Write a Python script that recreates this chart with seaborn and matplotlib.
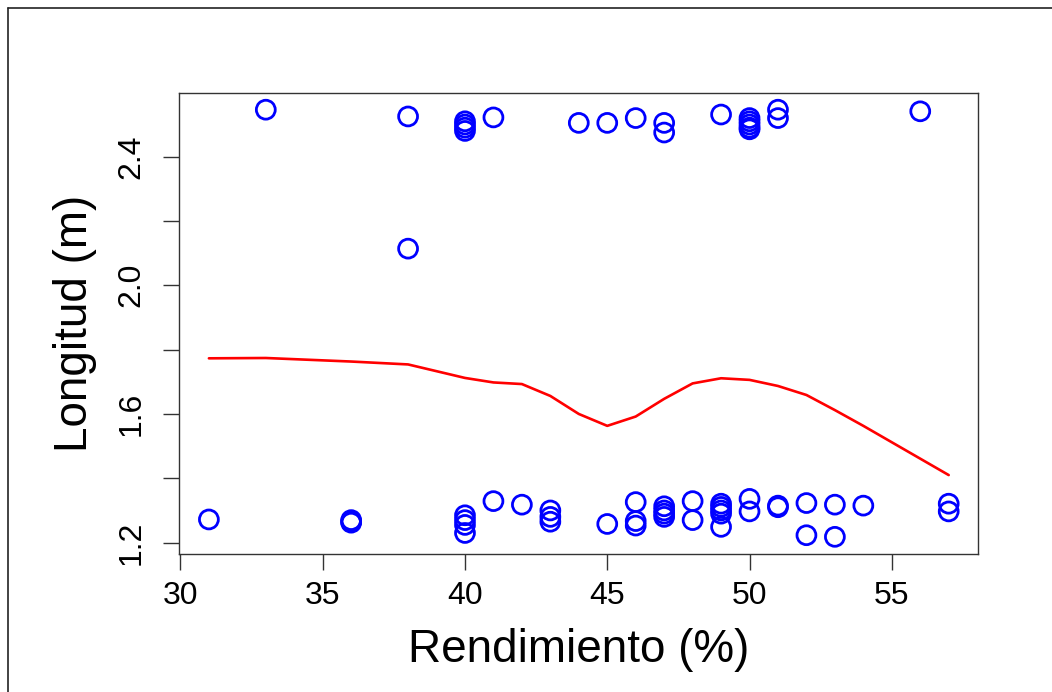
import numpy as np
import pandas as pd
import matplotlib
matplotlib.use("Agg")
import matplotlib.pyplot as plt
from matplotlib.lines import Line2D
import seaborn as sns

# ---- data ----
rend_top = [33, 38, 40, 40, 40, 40, 41, 44, 45, 46, 47, 47, 49,
            50, 50, 50, 50, 50, 51, 51, 56]
long_top = [2.546, 2.525, 2.51, 2.50, 2.49, 2.48, 2.522, 2.505, 2.505, 2.52, 2.505, 2.475, 2.531,
            2.52, 2.51, 2.50, 2.49, 2.485, 2.546, 2.52, 2.541]
rend_mid = [38]
long_mid = [2.114]
rend_bot = [31, 36, 36, 36, 40, 40, 40, 40, 41, 42, 43, 43, 43, 45,
            46, 46, 46, 47, 47, 47, 47, 48, 48, 49, 49, 49, 49, 49,
            50, 50, 51, 51, 52, 52, 53, 53, 54, 57, 57]
long_bot = [1.272, 1.27, 1.265, 1.262, 1.285, 1.27, 1.255, 1.23, 1.329, 1.318, 1.30, 1.28, 1.265, 1.258,
            1.326, 1.267, 1.253, 1.313, 1.30, 1.29, 1.28, 1.329, 1.27, 1.321, 1.311, 1.30, 1.29, 1.249,
            1.336, 1.297, 1.315, 1.31, 1.323, 1.223, 1.318, 1.218, 1.315, 1.321, 1.297]

# lowess smooth line
smooth_x = [31, 33, 36, 38, 40, 41, 42, 43, 44, 45, 46, 47, 48, 49, 50, 51, 52, 53, 54, 56, 57]
smooth_y = [1.773, 1.774, 1.763, 1.754, 1.712, 1.698, 1.693, 1.656, 1.600, 1.563, 1.592, 1.647,
            1.695, 1.711, 1.706, 1.687, 1.659, 1.612, 1.563, 1.461, 1.410]

x_ticks = [30, 35, 40, 45, 50, 55]
y_ticks = [1.2, 1.4, 1.6, 1.8, 2.0, 2.2, 2.4]
y_tick_labels = ["1.2", "", "1.6", "", "2.0", "", "2.4"]

pts = pd.DataFrame({
    "Rendimiento": rend_top + rend_mid + rend_bot,
    "Longitud": long_top + long_mid + long_bot,
})
smooth = pd.DataFrame({"x": smooth_x, "y": smooth_y})

sns.set_style("ticks")
plt.rcParams["font.family"] = ["Liberation Sans", "DejaVu Sans"]

fig = plt.figure(figsize=(10.52, 6.92), dpi=100)
ax = fig.add_axes([179.3 / 1052, 1 - 554 / 692, (978.3 - 179.3) / 1052, (554 - 93.3) / 692])

sns.scatterplot(data=pts, x="Rendimiento", y="Longitud", ax=ax, marker="o", s=185,
                facecolor="none", edgecolor="#0000ff", linewidth=2.0, zorder=3)
sns.lineplot(data=smooth, x="x", y="y", ax=ax, color="#ff0000", linewidth=1.9,
             estimator=None, sort=False, zorder=2)

ax.set_xlim(29.96, 58.04)
ax.set_ylim(1.1646, 2.597)
ax.set_xticks(x_ticks)
ax.set_xticklabels([str(t) for t in x_ticks])
ax.set_yticks(y_ticks)
ax.set_yticklabels(y_tick_labels, rotation=90, va="center")

for s in ax.spines.values():
    s.set_visible(True)
    s.set_color("#333333")
    s.set_linewidth(1.0)

ax.tick_params(axis="both", direction="out", length=11.5, width=1.0, color="#333333",
               labelsize=23, labelcolor="black")
ax.tick_params(axis="x", pad=8)
ax.tick_params(axis="y", pad=12)

ax.set_xlabel("Rendimiento (%)", fontsize=33, labelpad=12, color="black")
ax.set_ylabel("Longitud (m)", fontsize=33, labelpad=14, color="black")

# outer frame (top and left edges visible)
fig.add_artist(Line2D([7.7 / 1052, 1.0], [1 - 8.3 / 692, 1 - 8.3 / 692],
                      transform=fig.transFigure, color="#222222", linewidth=1.2))
fig.add_artist(Line2D([7.7 / 1052, 7.7 / 1052], [0.0, 1 - 8.3 / 692],
                      transform=fig.transFigure, color="#222222", linewidth=1.2))

fig.savefig("out.png", dpi=100, facecolor="white")
